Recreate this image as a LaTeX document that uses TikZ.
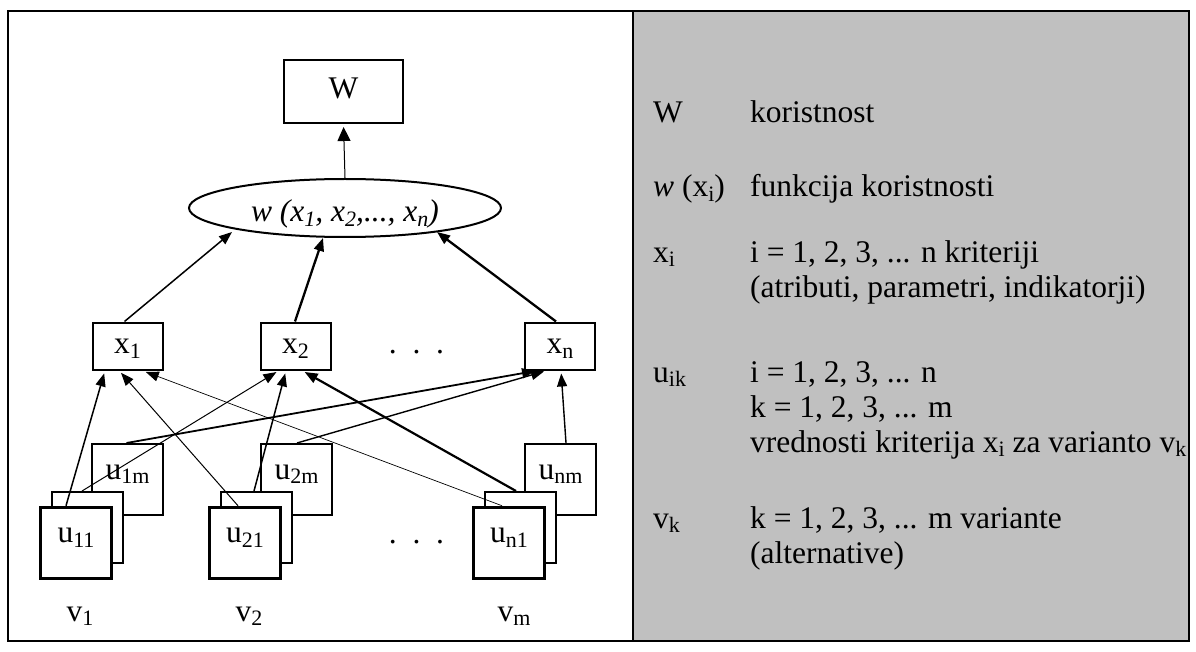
\documentclass[tikz,border=0pt]{standalone}
\usepackage{fontspec}
\setmainfont{Liberation Serif}
\usetikzlibrary{arrows.meta,shapes.geometric}
\definecolor{panel}{HTML}{C0C0C0}
\newcommand\mysub[1]{\raisebox{-0.15em}{\fontsize{22}{22}\selectfont #1}}
\begin{document}
\begin{tikzpicture}[x=1pt,y=-1pt,
  font=\fontsize{31.5}{35}\selectfont,
  box/.style={draw, line width=2pt, fill=white, inner sep=0pt, text height=15pt, text depth=0pt},
  ubox/.style={draw, line width=2pt, fill=white, inner sep=0pt, minimum width=71pt, minimum height=71pt, text height=15pt, text depth=16pt},
  ufront/.style={ubox, line width=3.5pt},
  conn/.style={-{Triangle[length=13pt,width=10pt]}, line width=1.2pt},
  lg/.style={anchor=base west, inner sep=0pt},
  lb/.style={anchor=base, inner sep=0pt}
]
\useasboundingbox (0,0) rectangle (1196,652);
% panels
\fill[panel] (633,11) rectangle (1189,641);
\draw[line width=2pt] (8,11) rectangle (1189,641);
\draw[line width=2pt] (633,11) -- (633,641);

% top
\node[box, minimum width=119pt, minimum height=63pt] (W) at (343.5,91.5) {W};
\node[draw, ellipse, line width=2pt, fill=white, inner sep=0pt, minimum width=312pt, minimum height=58pt,
      text height=28pt, text depth=0pt, font=\fontsize{31.5}{35}\selectfont\itshape] (ell) at (345,208)
      {w (x\mysub{1}, x\mysub{2},..., x\mysub{n})};

% criteria
\node[box, minimum width=70pt, minimum height=47pt] (x1) at (127.5,346) {x\mysub{1}};
\node[box, minimum width=70pt, minimum height=47pt] (x2) at (295.5,346) {x\mysub{2}};
\node[box, minimum width=70pt, minimum height=47pt] (xn) at (560,346) {x\mysub{n}};
\node[lb] (dots1) at (416.5,353) {.\ \ .\ \ .};

% u boxes, column 1
\node[ubox] (b1) at (127.5,479.5) {u\mysub{1m}};
\node[ubox] (m1) at (87.5,527.5) {};
\node[ufront] (f1) at (76,543) {u\mysub{11}};
% column 2
\node[ubox] (b2) at (296.5,479.5) {u\mysub{2m}};
\node[ubox] (m2) at (256.5,527.5) {};
\node[ufront] (f2) at (245,543) {u\mysub{21}};
% column n
\node[ubox] (bn) at (560.5,479.5) {u\mysub{nm}};
\node[ubox] (mn) at (520.5,527.5) {};
\node[ufront] (fn) at (509,543) {u\mysub{n1}};
\node[lb] (dots2) at (416.5,543) {.\ \ .\ \ .};

% variants
\node[lb] (v1) at (80,621) {v\mysub{1}};
\node[lb] (v2) at (249,621) {v\mysub{2}};
\node[lb] (vm) at (514,621) {v\mysub{m}};

% connectors: u -> x
\draw[conn, line width=1.5pt, shorten >=3pt] ([xshift=-10pt]f1.north) -- ([xshift=-22.5pt]x1.south);
\draw[conn, line width=1.0pt, shorten >=3pt] ([xshift=-7pt]f2.north) -- ([xshift=-8.5pt]x1.south);
\draw[conn, line width=0.7pt, shorten >=4pt] ([xshift=-7pt]fn.north) -- ([xshift=14.5pt]x1.south);
\draw[conn, line width=1.0pt, shorten >=3pt] ([xshift=-5.5pt]m1.north) -- ([xshift=-16.5pt]x2.south);
\draw[conn, line width=1.5pt, shorten >=3pt] ([xshift=-2.5pt]m2.north) -- ([xshift=-9.5pt]x2.south);
\draw[conn, line width=2.2pt, shorten >=3pt] ([xshift=-4.5pt]mn.north) -- ([xshift=6.5pt]x2.south);
\draw[conn, line width=1.8pt, shorten >=3pt] ([xshift=-1pt]b1.north) -- ([xshift=-22pt]xn.south);
\draw[conn, line width=1.4pt, shorten >=3pt] ([xshift=0.5pt]b2.north) -- ([xshift=-13pt]xn.south);
\draw[conn, line width=1.4pt, shorten >=3pt] ([xshift=5.5pt]bn.north) -- ([xshift=1pt]xn.south);

% connectors: x -> w
\draw[conn, line width=1.5pt] ([xshift=-3pt]x1.north) -- ([shift={(-113,24)}]ell.center);
\draw[conn, line width=2.3pt] ([xshift=-0.5pt]x2.north) -- ([shift={(-22,30)}]ell.center);
\draw[conn, line width=2.3pt] ([xshift=-4pt]xn.north) -- ([shift={(92,24)}]ell.center);
\draw[-{Triangle[length=14pt,width=13pt]}, line width=1pt, shorten >=3pt] (ell.north) -- (W.south);

% legend
\node[lg] (l1a) at (653,123) {W};
\node[lg] (l1b) at (750,123) {koristnost};
\node[lg] (l2a) at (653,197) {\textit{w} (x\mysub{i})};
\node[lg] (l2b) at (750,197) {funkcija koristnosti};
\node[lg] (l3a) at (653,262) {x\mysub{i}};
\node[lg] (l3b) at (750,262) {i = 1, 2, 3, ... n kriteriji};
\node[lg] (l3c) at (750,298) {(atributi, parametri, indikatorji)};
\node[lg] (l4a) at (653,382) {u\mysub{ik}};
\node[lg] (l4b) at (750,382) {i = 1, 2, 3, ... n};
\node[lg] (l4c) at (750,417) {k = 1, 2, 3, ... m};
\node[lg] (l4d) at (750,452) {vrednosti kriterija x\mysub{i} za varianto v\mysub{k}};
\node[lg] (l5a) at (653,528) {v\mysub{k}};
\node[lg] (l5b) at (750,528) {k = 1, 2, 3, ... m variante};
\node[lg] (l5c) at (750,563) {(alternative)};
\end{tikzpicture}
\end{document}
